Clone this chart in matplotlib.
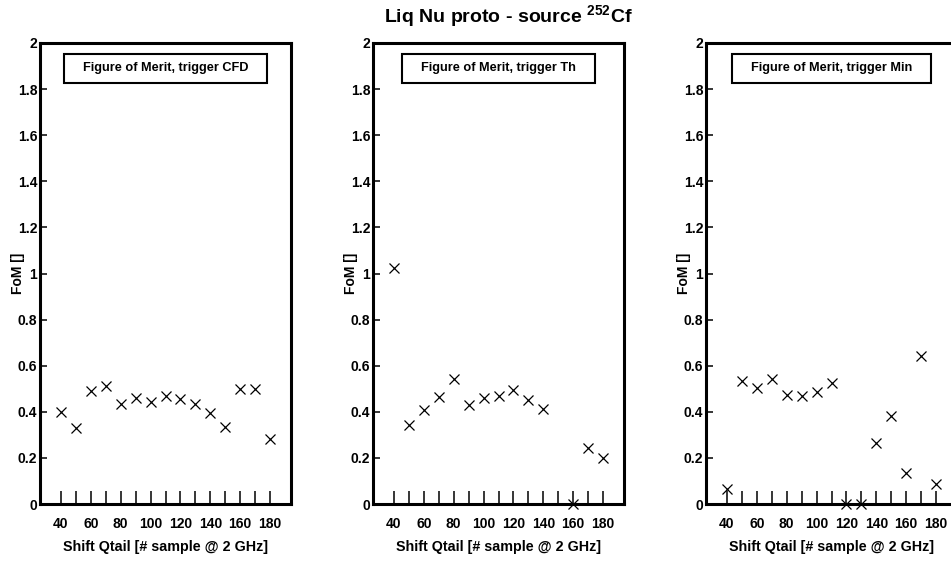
import numpy as np
import matplotlib
matplotlib.use('Agg')
import matplotlib.pyplot as plt
from matplotlib.patches import Rectangle

plt.rcParams['font.family'] = ['Liberation Sans', 'DejaVu Sans']
plt.rcParams['font.weight'] = 'bold'
plt.rcParams['mathtext.fontset'] = 'custom'
plt.rcParams['mathtext.rm'] = 'Liberation Sans:bold'
plt.rcParams['mathtext.bf'] = 'Liberation Sans:bold'

# Shift Qtail values (samples @ 2 GHz)
shift_cfd = [40, 50, 60, 70, 80, 90, 100, 110, 120, 130, 140, 150, 160, 170, 180]
fom_cfd = [0.400, 0.328, 0.490, 0.511, 0.432, 0.458, 0.443, 0.469, 0.455,
           0.436, 0.393, 0.332, 0.501, 0.501, 0.284]

shift_th = [40, 50, 60, 70, 80, 90, 100, 110, 120, 130, 140, 160, 170, 180]
fom_th = [1.023, 0.342, 0.407, 0.465, 0.541, 0.429, 0.462, 0.469, 0.494,
          0.453, 0.414, 0.0, 0.244, 0.198]

shift_min = [40, 50, 60, 70, 80, 90, 100, 110, 120, 130, 140, 150, 160, 170, 180]
fom_min = [0.065, 0.534, 0.504, 0.544, 0.472, 0.468, 0.484, 0.526, 0.0,
           0.0, 0.263, 0.383, 0.136, 0.642, 0.085]

y_labels = ['0', '0.2', '0.4', '0.6', '0.8', '1', '1.2', '1.4', '1.6', '1.8', '2']

panneaux = [
    ('Figure of Merit, trigger CFD', shift_cfd, fom_cfd),
    ('Figure of Merit, trigger Th', shift_th, fom_th),
    ('Figure of Merit, trigger Min', shift_min, fom_min),
]

W, H = 951, 563
fig = plt.figure(figsize=(W / 100, H / 100), dpi=100)

gauches = [40, 373, 706]  # bord gauche de chaque cadre en pixels
axes = []
for gauche, (titre, xs, ys) in zip(gauches, panneaux):
    ax = fig.add_axes([gauche / W, 1 - 504 / H, 251 / W, 461 / H])
    ax.plot(xs, ys, linestyle='none', marker='x', color='black',
            markersize=7.5, markeredgewidth=0.9, clip_on=False, zorder=5)
    ax.set_xlim(26, 194)
    ax.set_ylim(0, 2)
    ax.set_xticks(np.arange(40, 181, 20))
    ax.set_xticks(np.arange(50, 180, 20), minor=True)
    ax.set_yticks(np.arange(0, 2.01, 0.2))
    ax.set_yticklabels(y_labels)
    ax.tick_params(axis='x', which='both', direction='in', length=9.5, width=1.1,
                   top=False, pad=9, labelsize=10)
    ax.tick_params(axis='y', which='both', direction='in', length=5, width=1.1,
                   right=False, pad=2, labelsize=10)
    for s in ax.spines.values():
        s.set_linewidth(2.2)
    ax.set_xlabel('Shift Qtail [# sample @ 2 GHz]', fontsize=10.3, fontweight='bold', labelpad=7)
    ax.set_ylabel('FoM []', fontsize=10, fontweight='bold', labelpad=0)
    ax.yaxis.set_label_coords(-15 / 251, 0.5)
    t = ax.text(0.5, 0.945, titre, transform=ax.transAxes, ha='center', va='center',
                fontsize=9.2, fontweight='bold', zorder=10)
    axes.append((ax, t))

fig.text(508 / W, 1 - 17 / H, r'Liq Nu proto - source $^{252}$Cf', ha='center', va='center',
         fontsize=14, fontweight='bold')

# cadres autour des titres des panneaux
fig.canvas.draw()
rendu = fig.canvas.get_renderer()
for ax, t in axes:
    bb = t.get_window_extent(renderer=rendu)
    x0 = bb.x0 - 19
    largeur = bb.width + 38
    y_haut = H - 54
    y_bas = H - 83
    rect = Rectangle((x0 / W, y_bas / H), largeur / W, (y_haut - y_bas) / H,
                     transform=fig.transFigure, facecolor='white', edgecolor='black',
                     linewidth=1.5, zorder=4, clip_on=False)
    ax.add_patch(rect)

fig.savefig('out.png', dpi=100)
